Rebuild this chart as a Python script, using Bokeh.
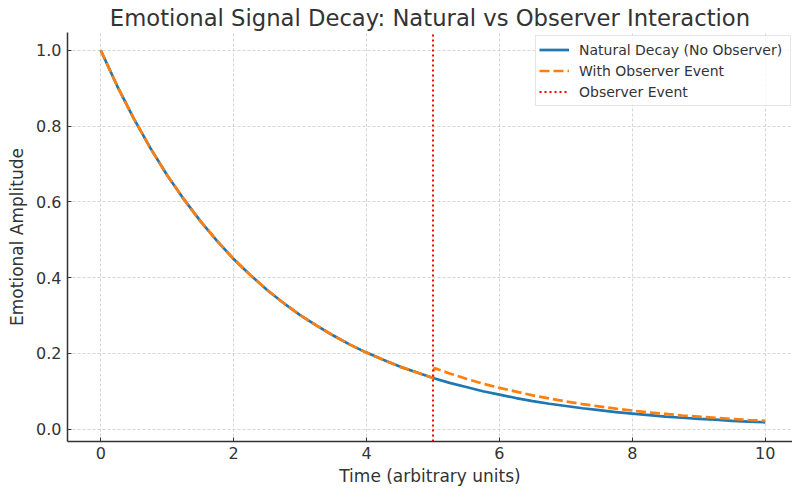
from bokeh.plotting import figure
from bokeh.models import Range1d, Legend, LegendItem, FixedTicker, CustomJSTickFormatter
from bokeh.embed import file_html
from bokeh.resources import INLINE

# Data
t = [0, 0.25, 0.5, 0.75, 1.0, 1.25, 1.5, 1.75, 2.0, 2.25, 2.5, 2.75, 3.0, 3.25, 3.5, 3.75,
     4.0, 4.25, 4.5, 4.75, 5.0, 5.25, 5.5, 5.75, 6.0, 6.25, 6.5, 6.75, 7.0, 7.25, 7.5, 7.75,
     8.0, 8.25, 8.5, 8.75, 9.0, 9.25, 9.5, 9.75, 10.0]
natural = [1.000, 0.905, 0.819, 0.741, 0.670, 0.607, 0.549, 0.497, 0.449, 0.407, 0.368,
           0.333, 0.301, 0.273, 0.247, 0.223, 0.202, 0.183, 0.165, 0.150, 0.135, 0.122,
           0.111, 0.100, 0.091, 0.082, 0.074, 0.067, 0.061, 0.055, 0.050, 0.045, 0.041,
           0.037, 0.033, 0.030, 0.027, 0.025, 0.022, 0.020, 0.018]
t_obs = [0, 0.25, 0.5, 0.75, 1.0, 1.25, 1.5, 1.75, 2.0, 2.25, 2.5, 2.75, 3.0, 3.25, 3.5, 3.75,
         4.0, 4.25, 4.5, 4.75, 5.0, 5.02, 5.25, 5.5, 5.75, 6.0, 6.25, 6.5, 6.75, 7.0, 7.25,
         7.5, 7.75, 8.0, 8.25, 8.5, 8.75, 9.0, 9.25, 9.5, 9.75, 10.0]
observer = [1.000, 0.905, 0.819, 0.741, 0.670, 0.607, 0.549, 0.497, 0.449, 0.407, 0.368,
            0.333, 0.301, 0.273, 0.247, 0.223, 0.202, 0.183, 0.165, 0.150, 0.135, 0.161,
            0.147, 0.133, 0.120, 0.109, 0.099, 0.089, 0.081, 0.073, 0.066, 0.060, 0.054,
            0.049, 0.044, 0.040, 0.036, 0.033, 0.030, 0.027, 0.024, 0.022]
event_time = 5
x_ticks = [0, 2, 4, 6, 8, 10]
y_ticks = [0.0, 0.2, 0.4, 0.6, 0.8, 1.0]

FONT = "DejaVu Sans"
TXT = "#333333"

y_lo, y_hi = -0.0327, 1.047

p = figure(width=792, height=488, output_backend="svg", toolbar_location=None,
           x_range=Range1d(-0.5, 10.41), y_range=Range1d(y_lo, y_hi),
           title="Emotional Signal Decay: Natural vs Observer Interaction",
           min_border_left=67, min_border_right=0, min_border_bottom=46, min_border_top=32)
p.outline_line_color = None
p.background_fill_color = "white"

p.title.text_font = FONT
p.title.text_font_size = "22.7px"
p.title.text_font_style = "normal"
p.title.text_color = TXT
p.title.align = "center"
p.title.offset = 0
p.title.standoff = 4

for ax in (p.xaxis[0], p.yaxis[0]):
    ax.axis_line_color = TXT
    ax.axis_line_width = 1.5
    ax.major_tick_in = 4
    ax.major_tick_out = 0
    ax.minor_tick_in = 0
    ax.minor_tick_out = 0
    ax.major_tick_line_color = TXT
    ax.major_label_text_font = FONT
    ax.major_label_text_font_size = "16px"
    ax.major_label_text_color = TXT
    ax.axis_label_text_font = FONT
    ax.axis_label_text_font_size = "17px"
    ax.axis_label_text_font_style = "normal"
    ax.axis_label_text_color = TXT

p.xaxis.ticker = FixedTicker(ticks=x_ticks)
p.yaxis.ticker = FixedTicker(ticks=y_ticks)
p.yaxis.formatter = CustomJSTickFormatter(code="return tick.toFixed(1);")
p.xaxis.axis_label = "Time (arbitrary units)"
p.yaxis.axis_label = "Emotional Amplitude"
p.xaxis.major_label_standoff = 5
p.yaxis.major_label_standoff = 6
p.xaxis.axis_label_standoff = 4
p.yaxis.axis_label_standoff = 6

for g in (p.xgrid[0], p.ygrid[0]):
    g.grid_line_color = "#cccccc"
    g.grid_line_dash = "3 2"
    g.grid_line_width = 0.8

r1 = p.line(t, natural, line_color="#1f77b4", line_width=2.7)
r2 = p.line(t_obs, observer, line_color="#ff7f0e", line_width=2.7, line_dash="10 4")
r3 = p.line([event_time, event_time], [y_lo, y_hi], line_color="red", line_width=2,
            line_dash="2 3")

legend = Legend(items=[LegendItem(label="Natural Decay (No Observer)", renderers=[r1]),
                       LegendItem(label="With Observer Event", renderers=[r2]),
                       LegendItem(label="Observer Event", renderers=[r3])],
                location=(468, 335))
legend.label_text_font = FONT
legend.label_text_font_size = "14px"
legend.label_text_color = TXT
legend.glyph_width = 30
legend.glyph_height = 21
legend.label_height = 21
legend.spacing = 0
legend.padding = 3
legend.margin = 0
legend.label_standoff = 10
legend.label_width = 208
legend.border_line_color = "#cccccc"
legend.background_fill_alpha = 0.8
p.add_layout(legend, "center")

open("out.html", "w").write(file_html(p, INLINE))
